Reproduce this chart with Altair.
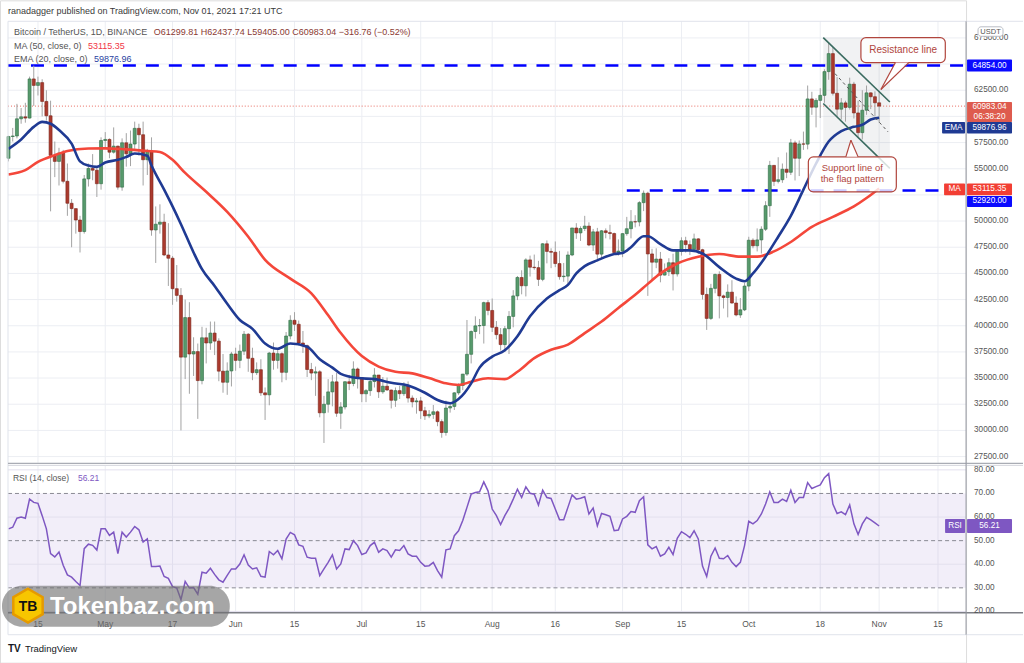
import altair as alt
import pandas as pd

FONT = "Liberation Sans"

# ---------------- candles (BTC/USDT 1D, Apr 8 - Nov 1 2021) ----------------
dates = pd.date_range("2021-04-08", "2021-11-01", freq="D").strftime("%Y-%m-%d").tolist()

opens = [
    56000, 58080, 58130, 59770, 59960, 59840, 63580, 62960, 63230, 61430, 60060, 56270, 55700, 56500, 53800, 51700, 51190, 50100, 49000, 54030, 55030, 54860, 53570,
    57700, 57800, 56580, 57160, 53240, 57480, 56430, 57360, 58860, 58250, 55860, 56700, 49150, 49700, 49900, 46760, 46450, 43540, 42900, 37000, 40780, 37300, 37530, 34760, 38850, 38350, 39300, 38530, 35660, 34600, 35680,
    37300, 36690, 37570, 39190, 36890, 35520, 35800, 33590, 33400, 37390, 36690, 37330, 35550, 39020, 40520, 40140, 38350, 38090, 35820, 35480, 35600, 31680, 32500, 33680, 34640, 31640, 32240, 34650, 34480, 35870,
    35040, 33500, 33800, 34670, 35290, 33690, 34220, 33860, 32880, 33800, 33510, 34260, 33090, 32730, 32820, 31880, 31390, 31530, 31780, 30840, 29800, 32140, 32290, 33590, 34290, 35380, 37270, 39450, 39990, 40020, 42210,
    41460, 39850, 39150, 38200, 39720, 40890, 42850, 44610, 43820, 46290, 45590, 45550, 44430, 47830, 47100, 47020, 45940, 44690, 44740, 46760, 49340, 48870, 49290, 49520, 47710, 48970, 46840, 49070, 48900, 48810, 46990,
    47130, 48800, 49270, 49940, 49920, 51760, 52660, 46860, 46070, 46370, 44840, 45160, 46020, 44950, 47100, 48120, 47750, 47300, 48300, 47260, 42990, 40700, 43570, 44900, 42850, 42700, 43210, 42170, 41030, 41520,
    43790, 48170, 47640, 48200, 49220, 51470, 55320, 53790, 53950, 54950, 54660, 57470, 56000, 57370, 57350, 61670, 60880, 61530, 62010, 64280, 66000, 62210, 60690, 61290, 60860, 63080, 60330, 58450, 60590, 62250, 61880,
    61299.81,
]
highs = [
    58150, 58900, 61200, 60800, 61300, 63800, 64854, 63800, 63550, 62500, 61500, 57600, 57000, 56800, 55500, 52100, 51200, 50500, 54400, 55500, 56400, 55200, 58000,
    58500, 57900, 58950, 57200, 57900, 58400, 58650, 59500, 59300, 59500, 56900, 58000, 51400, 51600, 50700, 49800, 46650, 45800, 43600, 42500, 42250, 38900, 38300, 39900, 39800, 40400, 40400, 38800, 37300, 36500, 37500,
    37900, 38200, 39500, 39300, 37900, 36500, 36800, 34100, 37500, 38400, 37700, 37450, 39400, 41000, 41300, 40500, 39500, 38200, 36450, 36100, 35750, 33300, 34900, 35300, 35500, 32700, 34700, 35300, 36600, 36000,
    35050, 33950, 34950, 35950, 35290, 35100, 35050, 33900, 34100, 34250, 34600, 34680, 33340, 33100, 33200, 32250, 31950, 32430, 31900, 31050, 32850, 32600, 33650, 34500, 35400, 40550, 39550, 40900, 40650, 42300, 42450,
    42600, 40450, 39780, 39970, 41400, 43400, 44750, 45300, 46450, 46700, 46800, 46200, 47900, 48150, 47400, 48050, 47150, 46000, 47100, 49350, 49800, 49500, 50500, 49880, 49250, 49350, 49150, 49300, 49650, 48900, 48250,
    48850, 50400, 51050, 50560, 51900, 52920, 52800, 47350, 47400, 47050, 45950, 46450, 46880, 47250, 48450, 48500, 48150, 48800, 48370, 47350, 43650, 44000, 44980, 45200, 42970, 43950, 44350, 42800, 42650, 44100,
    48500, 48350, 49300, 49500, 51900, 55750, 55350, 56100, 55500, 56550, 57850, 57680, 57700, 58550, 62950, 62350, 61750, 62700, 64500, 67000, 66650, 63750, 61750, 61500, 63700, 63300, 61500, 62500, 62950, 62300, 62400,
    62437.74,
]
lows = [
    55700, 57600, 57900, 59300, 59400, 59800, 61000, 62000, 60000, 59600, 50930, 54200, 53400, 53600, 50500, 47500, 48800, 47000, 48800, 53300, 53900, 52300, 53000,
    57000, 56000, 56450, 53000, 52900, 55200, 55250, 56900, 56250, 53400, 54400, 48600, 46000, 48800, 46650, 43800, 42000, 42300, 30000, 34900, 33500, 35200, 31100, 34400, 36400, 37700, 37200, 34700, 33600, 33400, 34200,
    35700, 35950, 37200, 35600, 34800, 35300, 33300, 31000, 32400, 35800, 35900, 34600, 34800, 38700, 39500, 38100, 37400, 35100, 34800, 33300, 31250, 28800, 31700, 32300, 31300, 30150, 32000, 33850, 34220, 34000,
    32700, 32700, 33300, 34100, 33100, 33500, 33780, 32100, 32250, 33000, 33300, 32660, 32200, 31600, 31100, 31000, 31170, 31100, 30400, 29300, 29500, 31700, 31950, 33400, 33850, 35200, 36400, 38770, 39200, 38300, 41000,
    39400, 38700, 37640, 37500, 37300, 39850, 42450, 43000, 42800, 44700, 45350, 43800, 44250, 45960, 45500, 45600, 44400, 44200, 43900, 46650, 48300, 48100, 49050, 47600, 47150, 46300, 46400, 48350, 48250, 46850, 46700,
    46550, 48600, 48350, 49400, 49500, 50950, 42850, 44400, 45500, 44150, 44800, 44750, 43370, 44700, 46700, 47000, 46750, 47050, 46850, 42500, 39600, 40550, 43100, 40700, 41650, 40800, 42100, 40900, 40750, 41400,
    43300, 47400, 47100, 46900, 49050, 50400, 53350, 53600, 53650, 54100, 54400, 53880, 54300, 56800, 56850, 60150, 58950, 59850, 61300, 63500, 62000, 60000, 59700, 59500, 60650, 59800, 58000, 57800, 60150, 60700, 60000,
    59405.00,
]
closes = [
    58080, 58130, 59770, 59960, 59840, 63580, 62960, 63230, 61430, 60060, 56270, 55700, 56500, 53800, 51700, 51190, 50100, 49000, 54030, 55030, 54860, 53570, 57700,
    57800, 56580, 57160, 53240, 57480, 56430, 57360, 58860, 58250, 55860, 56700, 49150, 49700, 49900, 46760, 46450, 43540, 42900, 37000, 40780, 37300, 37530, 34760, 38850, 38350, 39300, 38530, 35660, 34600, 35680, 37300,
    36690, 37570, 39190, 36890, 35520, 35800, 33590, 33400, 37390, 36690, 37330, 35550, 39020, 40520, 40140, 38350, 38090, 35820, 35480, 35600, 31680, 32500, 33680, 34640, 31640, 32240, 34650, 34480, 35870, 35040,
    33500, 33800, 34670, 35290, 33690, 34220, 33860, 32880, 33800, 33510, 34260, 33090, 32730, 32820, 31880, 31390, 31530, 31780, 30840, 29800, 32140, 32290, 33590, 34290, 35380, 37270, 39450, 39990, 40020, 42210, 41460,
    39850, 39150, 38200, 39720, 40890, 42850, 44610, 43820, 46290, 45590, 45550, 44430, 47830, 47100, 47020, 45940, 44690, 44740, 46760, 49340, 48870, 49290, 49520, 47710, 48970, 46840, 49070, 48900, 48810, 46990, 47130,
    48800, 49270, 49940, 49920, 51760, 52660, 46860, 46070, 46370, 44840, 45160, 46020, 44950, 47100, 48120, 47750, 47300, 48300, 47260, 42990, 40700, 43570, 44900, 42850, 42700, 43210, 42170, 41030, 41520, 43790,
    48170, 47640, 48200, 49220, 51470, 55320, 53790, 53950, 54950, 54660, 57470, 56000, 57370, 57350, 61670, 60880, 61530, 62010, 64280, 66000, 62210, 60690, 61290, 60860, 63080, 60330, 58450, 60590, 62250, 61880, 61300,
    60983.04,
]
rsi_vals = [
    55, 55.7, 59.5, 60, 59.5, 67.6, 66.2, 65.8, 60.6, 55, 44.5, 43.1, 45.2, 39.6, 35.5, 34.5, 32.7, 31, 46.6, 48.5, 48, 46, 55,
    55, 52.2, 53.6, 44.5, 53.6, 51.5, 53.6, 56, 54.6, 49.4, 50.8, 39, 39, 39.2, 34.8, 34, 30.5, 29.9, 25, 32.7, 29.9, 30.1, 27.3, 36.6, 36.2, 38.3, 35.7, 33.4, 32.4, 35.3, 38,
    38, 40.1, 44, 39.7, 38, 38.5, 34.9, 34.5, 45.4, 44, 45.8, 42.3, 50.7, 53.5, 52.5, 48.2, 47.6, 43, 42.5, 42.5, 35.2, 38, 40.8, 44, 38, 40.1, 46.5, 46.2, 50, 47.9,
    44.1, 44.8, 47.9, 49.3, 45.1, 46.5, 45.8, 43, 46.1, 45.8, 47.9, 44.4, 43.4, 43.4, 40.8, 39.2, 39.4, 40.8, 37.3, 34.5, 46.1, 46.5, 52.1, 54.2, 58.5, 64.1, 69.7, 70.4, 70.7, 74.9, 71.1,
    63.4, 60.6, 56.8, 60.6, 63.7, 67.6, 71.8, 68.3, 72.8, 70.1, 69.7, 65.1, 71.4, 68.3, 67.9, 63.4, 58.9, 58.9, 64.1, 69.4, 67.6, 68, 68.6, 61.3, 63.8, 56.3, 61.5, 61, 60.3, 54.2, 54.5,
    59.2, 60.3, 62.3, 62, 66.9, 68.6, 48.2, 46.5, 47.5, 43.4, 44.4, 47.2, 44.1, 51, 53.8, 52.7, 51.3, 54.2, 50.7, 39.2, 34.8, 43.4, 46.9, 42.5, 42.3, 43.7, 40.8, 39, 40.8, 47.9,
    58.2, 57.1, 58.5, 61.3, 65.5, 70.7, 66.2, 66.2, 67.6, 66.6, 71.4, 66.2, 68.3, 68.3, 74.6, 72.1, 72.9, 73.6, 76.7, 78.4, 65.5, 61.5, 62.2, 61, 65.1, 57.1, 52.6, 57.1, 59.9, 58.8, 57.5,
    56.21,
]

ema_dates = ["2021-04-08", "2021-04-11", "2021-04-14", "2021-04-16", "2021-04-18", "2021-04-20", "2021-04-23", "2021-04-25", "2021-04-27", "2021-04-29",
             "2021-05-01", "2021-05-04", "2021-05-06", "2021-05-08", "2021-05-11", "2021-05-12", "2021-05-15", "2021-05-17", "2021-05-19", "2021-05-22",
             "2021-05-24", "2021-05-27", "2021-05-30", "2021-06-02", "2021-06-05", "2021-06-08", "2021-06-11", "2021-06-14", "2021-06-18", "2021-06-21",
             "2021-06-24", "2021-06-26", "2021-06-30", "2021-07-04", "2021-07-08", "2021-07-12", "2021-07-16", "2021-07-19", "2021-07-22", "2021-07-24",
             "2021-07-27", "2021-07-29", "2021-08-01", "2021-08-04", "2021-08-07", "2021-08-10", "2021-08-14", "2021-08-17", "2021-08-19", "2021-08-21",
             "2021-08-23", "2021-08-26", "2021-08-30", "2021-09-01", "2021-09-03", "2021-09-06", "2021-09-07", "2021-09-10", "2021-09-13", "2021-09-17",
             "2021-09-20", "2021-09-24", "2021-09-28", "2021-09-30", "2021-10-02", "2021-10-05", "2021-10-08", "2021-10-11", "2021-10-14", "2021-10-17",
             "2021-10-20", "2021-10-23", "2021-10-26", "2021-10-28", "2021-10-30", "2021-11-01"]
ema_vals = [56900, 57800, 59000, 59480, 59300, 58700, 57400, 55700, 55300, 55180,
            55600, 55850, 56130, 56450, 56250, 55300, 53000, 51400, 49700, 47000,
            45400, 43800, 42100, 40550, 39700, 38300, 37800, 38300, 38000, 36800,
            36000, 35400, 35000, 34900, 34550, 34300, 33600, 32900, 32600, 33000,
            34500, 36000, 37050, 37650, 39000, 40900, 42600, 43400, 43900, 45000,
            45700, 46250, 46850, 46950, 47500, 48550, 48550, 47800, 47200, 47200,
            46900, 45600, 44500, 44250, 45000, 46600, 48500, 50500, 53000, 55500,
            57600, 58600, 59000, 59200, 59700, 59876.96]

ma_dates = ["2021-04-08", "2021-04-12", "2021-04-15", "2021-04-19", "2021-04-22", "2021-04-27", "2021-05-01", "2021-05-06", "2021-05-11", "2021-05-14",
            "2021-05-17", "2021-05-20", "2021-05-25", "2021-05-30", "2021-06-04", "2021-06-08", "2021-06-14", "2021-06-19", "2021-06-23", "2021-06-26",
            "2021-07-01", "2021-07-05", "2021-07-09", "2021-07-13", "2021-07-17", "2021-07-21", "2021-07-24", "2021-07-27", "2021-07-31", "2021-08-04",
            "2021-08-07", "2021-08-11", "2021-08-15", "2021-08-19", "2021-08-23", "2021-08-27", "2021-08-31", "2021-09-04", "2021-09-07", "2021-09-10",
            "2021-09-14", "2021-09-19", "2021-09-24", "2021-09-29", "2021-10-03", "2021-10-07", "2021-10-11", "2021-10-16", "2021-10-21", "2021-10-26",
            "2021-10-29", "2021-11-01"]
ma_vals = [54450, 54860, 55660, 56300, 56700, 56930, 56950, 56850, 56700, 56600,
           55850, 54600, 52800, 50880, 48500, 46300, 44500, 43100, 41000, 39300,
           37100, 36100, 35600, 35450, 35000, 34500, 34340, 34650, 34980, 34900,
           35600, 36900, 37700, 38200, 39300, 40400, 41700, 42950, 44000, 45000,
           45950, 46600, 46850, 46600, 46600, 47100, 48000, 49450, 50400, 51400,
           52200, 53115.35]

price_ticks = [27500, 30000, 32500, 35000, 37500, 40000, 42500, 45000, 47500, 50000,
               52500, 55000, 57500, 60000, 62500, 65000, 67500]
# tick labels not hidden behind the price badges
price_labels = [27500, 30000, 32500, 35000, 37500, 40000, 42500, 45000, 47500, 50000,
                55000, 57500, 62500, 67500]
rsi_ticks = [20, 30, 40, 50, 60, 70, 80]
rsi_grid = [20, 40, 60, 80]
rsi_dashed = [30, 50, 70]
date_ticks = ["2021-04-15", "2021-05-01", "2021-05-17", "2021-06-01", "2021-06-15", "2021-07-01", "2021-07-15",
              "2021-08-01", "2021-08-16", "2021-09-01", "2021-09-15", "2021-10-01", "2021-10-18", "2021-11-01", "2021-11-15"]
date_labels = ["15", "May", "17", "Jun", "15", "Jul", "15", "Aug", "16", "Sep", "15", "Oct", "18", "Nov", "15"]

resistance_level = 64854.0
support_level = 52920.0
support_start = "2021-09-02"
last_close = 60983.04
ma_last = 53115.35
ema_last = 59876.96
rsi_last = 56.21

# flag pattern drawing (date, price)
flag_d = ["2021-10-18T17:00:00Z", "2021-11-03T13:00:00Z"]
flag_res_p = [67530, 61380]
flag_sup_p = [61230, 55030]
flag_mid_d = ["2021-10-21T12:00:00Z", "2021-11-03T03:00:00Z"]
flag_mid_p = [64090, 58520]
flag_box_p = [56010, 67530]

# ---------------- colours ----------------
UP_F, UP_S = "#579a6c", "#2f6b45"
DN_F, DN_S = "#ab3a2e", "#7a2519"
WICK = "#a3a3a3"
EMA_C = "#1f3a93"
MA_C = "#f4473a"
LVL_C = "#0000ff"
RSI_C = "#7e57c2"
GRID = "#eceef3"
NOTE_C = "#b0453d"
FLAG_C = "#3a6b60"
TXT = "#555555"


def ms(s):
    return int(pd.Timestamp(s).tz_localize("UTC").timestamp() * 1000)


XS = alt.Scale(type="utc", domain=[ms("2021-04-15"), ms("2021-11-01")], range=[38, 880], nice=False, padding=0)
PY = alt.Scale(domain=[27500, 62500], range=[456.7, 90], nice=False, zero=False, padding=0)
RY = alt.Scale(domain=[20, 80], range=[611.7, 470], nice=False, zero=False, padding=0)

ONE = pd.DataFrame({"k": [0]})


def X(f):
    return alt.X(f"{f}:T", scale=XS, axis=None)


def YP(f):
    return alt.Y(f"{f}:Q", scale=PY, axis=None)


def YR(f):
    return alt.Y(f"{f}:Q", scale=RY, axis=None)


def prule(x1, x2, y1, y2, **kw):
    return alt.Chart(ONE).mark_rule(**kw).encode(
        x=alt.value(x1), x2=alt.value(x2), y=alt.value(y1), y2=alt.value(y2))


def prect(x1, x2, y1, y2, **kw):
    return alt.Chart(ONE).mark_rect(**kw).encode(
        x=alt.value(x1), x2=alt.value(x2), y=alt.value(y1), y2=alt.value(y2))


def ptext(s, x, y, size=9, color=TXT, align="left", weight="normal"):
    return alt.Chart(ONE).mark_text(text=s, font=FONT, fontSize=size, color=color, align=align,
                                    baseline="middle", fontWeight=weight).encode(
        x=alt.value(x), y=alt.value(y))


layers = []

# ---------------- grids / frames ----------------
layers.append(alt.Chart(pd.DataFrame({"p": price_ticks})).mark_rule(color=GRID, strokeWidth=1).encode(
    y=YP("p"), x=alt.value(8), x2=alt.value(967)))
layers.append(alt.Chart(pd.DataFrame({"d": date_ticks})).mark_rule(color=GRID, strokeWidth=1).encode(
    x=X("d"), y=alt.value(21), y2=alt.value(463)))
layers.append(alt.Chart(pd.DataFrame({"d": date_ticks})).mark_rule(color=GRID, strokeWidth=1).encode(
    x=X("d"), y=alt.value(466), y2=alt.value(613)))

# RSI band and guides
layers.append(alt.Chart(pd.DataFrame({"a": [70], "b": [30]})).mark_rect(color=RSI_C, opacity=0.1).encode(
    y=YR("a"), y2="b:Q", x=alt.value(8), x2=alt.value(967)))
layers.append(alt.Chart(pd.DataFrame({"r": rsi_grid})).mark_rule(color="#e3e0ee", strokeWidth=1).encode(
    y=YR("r"), x=alt.value(8), x2=alt.value(967)))
layers.append(alt.Chart(pd.DataFrame({"r": rsi_dashed})).mark_rule(color="#8a8a94", strokeWidth=1, strokeDash=[4, 3]).encode(
    y=YR("r"), x=alt.value(8), x2=alt.value(967)))

# flag shading
layers.append(alt.Chart(pd.DataFrame({"d1": [flag_d[0]], "d2": [flag_d[1]], "p1": [flag_box_p[0]], "p2": [flag_box_p[1]]}))
              .mark_rect(color="#787b86", opacity=0.1).encode(x=X("d1"), x2="d2:T", y=YP("p1"), y2="p2:Q"))

# horizontal key levels
layers.append(alt.Chart(pd.DataFrame({"p": [resistance_level]})).mark_rule(color=LVL_C, strokeWidth=2.5, strokeDash=[13, 10]).encode(
    y=YP("p"), x=alt.value(8), x2=alt.value(967)))
layers.append(alt.Chart(pd.DataFrame({"p": [support_level], "d": [support_start]})).mark_rule(color=LVL_C, strokeWidth=2.5, strokeDash=[13, 10]).encode(
    y=YP("p"), x=X("d"), x2=alt.value(967)))

# last price dotted line
layers.append(alt.Chart(pd.DataFrame({"p": [last_close]})).mark_rule(color="#e86a5f", strokeWidth=1, strokeDash=[1, 2]).encode(
    y=YP("p"), x=alt.value(8), x2=alt.value(967)))

# ---------------- candles ----------------
cdf = pd.DataFrame({"date": dates, "open": opens, "high": highs, "low": lows, "close": closes})
cdf["dir"] = ["up" if c >= o else "down" for o, c in zip(opens, closes)]
layers.append(alt.Chart(cdf).mark_rule(color=WICK, strokeWidth=1).encode(x=X("date"), y=YP("low"), y2="high:Q"))
layers.append(alt.Chart(cdf).mark_bar(size=3, strokeWidth=0.6).encode(
    x=X("date"), y=YP("open"), y2="close:Q",
    fill=alt.Fill("dir:N", scale=alt.Scale(domain=["up", "down"], range=[UP_F, DN_F]), legend=None),
    stroke=alt.Stroke("dir:N", scale=alt.Scale(domain=["up", "down"], range=[UP_S, DN_S]), legend=None)))

# moving averages
layers.append(alt.Chart(pd.DataFrame({"d": ma_dates, "v": ma_vals})).mark_line(
    color=MA_C, strokeWidth=2.6, interpolate="monotone").encode(x=X("d"), y=YP("v")))
layers.append(alt.Chart(pd.DataFrame({"d": ema_dates, "v": ema_vals})).mark_line(
    color=EMA_C, strokeWidth=2.6, interpolate="monotone").encode(x=X("d"), y=YP("v")))

# flag lines
layers.append(alt.Chart(pd.DataFrame({"d": flag_d, "p": flag_res_p})).mark_line(color=FLAG_C, strokeWidth=1.6).encode(x=X("d"), y=YP("p")))
layers.append(alt.Chart(pd.DataFrame({"d": flag_d, "p": flag_sup_p})).mark_line(color=FLAG_C, strokeWidth=1.6).encode(x=X("d"), y=YP("p")))
layers.append(alt.Chart(pd.DataFrame({"d": flag_mid_d, "p": flag_mid_p})).mark_line(color="#555", strokeWidth=1, strokeDash=[3, 3]).encode(x=X("d"), y=YP("p")))

# ---------------- callouts ----------------
# Resistance line
layers.append(alt.Chart(pd.DataFrame({"d1": ["2021-10-27T16:00:00Z"], "d2": ["2021-11-16T17:30:00Z"], "p1": [65144], "p2": [67530]}))
              .mark_rect(fill="white", fillOpacity=0.8, stroke=NOTE_C, strokeWidth=1.2, cornerRadius=5)
              .encode(x=X("d1"), x2="d2:T", y=YP("p1"), y2="p2:Q"))
layers.append(alt.Chart(pd.DataFrame({"d": ["2021-11-01T10:00:00Z", "2021-11-04T21:00:00Z", "2021-11-08T01:00:00Z"],
                                      "a": [62567, 65144, 65144], "b": [62567, 63913, 65144]}))
              .mark_area(color="white", opacity=0.85).encode(x=X("d"), y=YP("a"), y2="b:Q"))
layers.append(alt.Chart(pd.DataFrame({"d": ["2021-11-01T10:00:00Z", "2021-11-04T21:00:00Z", "2021-11-01T10:00:00Z", "2021-11-08T01:00:00Z"],
                                      "p": [62567, 65144, 62567, 65144], "g": ["a", "a", "b", "b"]}))
              .mark_line(color=NOTE_C, strokeWidth=1.2).encode(x=X("d"), y=YP("p"), detail="g:N"))
layers.append(alt.Chart(pd.DataFrame({"d": ["2021-11-06T17:00:00Z"], "p": [66337], "t": ["Resistance line"]}))
              .mark_text(font=FONT, fontSize=10, color=NOTE_C, align="center", baseline="middle")
              .encode(x=X("d"), y=YP("p"), text="t:N"))

# Support line of the flag pattern
layers.append(alt.Chart(pd.DataFrame({"d1": ["2021-10-15T04:00:00Z"], "d2": ["2021-11-05T02:00:00Z"], "p1": [52793], "p2": [56134]}))
              .mark_rect(fill="white", fillOpacity=0.8, stroke=NOTE_C, strokeWidth=1.2, cornerRadius=5)
              .encode(x=X("d1"), x2="d2:T", y=YP("p1"), y2="p2:Q"))
layers.append(alt.Chart(pd.DataFrame({"d": ["2021-10-24T02:00:00Z", "2021-10-25T07:00:00Z", "2021-10-27T00:00:00Z"],
                                      "a": [56134, 57727, 56134], "b": [56134, 56134, 56134]}))
              .mark_area(color="white", opacity=0.9).encode(x=X("d"), y=YP("a"), y2="b:Q"))
layers.append(alt.Chart(pd.DataFrame({"d": ["2021-10-24T02:00:00Z", "2021-10-25T07:00:00Z", "2021-10-25T07:00:00Z", "2021-10-27T00:00:00Z"],
                                      "p": [56134, 57727, 57727, 56134], "g": ["a", "a", "b", "b"]}))
              .mark_line(color=NOTE_C, strokeWidth=1.2).encode(x=X("d"), y=YP("p"), detail="g:N"))
layers.append(alt.Chart(pd.DataFrame({"d": ["2021-10-25T15:00:00Z", "2021-10-25T15:00:00Z"], "p": [55100, 54000],
                                      "t": ["Support line of", "the flag pattern"]}))
              .mark_text(font=FONT, fontSize=9.5, color=NOTE_C, align="center", baseline="middle")
              .encode(x=X("d"), y=YP("p"), text="t:N"))

# ---------------- RSI ----------------
layers.append(alt.Chart(pd.DataFrame({"date": dates, "rsi": rsi_vals})).mark_line(color=RSI_C, strokeWidth=1.5).encode(
    x=X("date"), y=YR("rsi")))

# ---------------- frames ----------------
layers.append(prule(8, 1024, 21, 21, color="#e0e3eb", strokeWidth=1))
layers.append(prule(8, 8, 21, 635, color="#e0e3eb", strokeWidth=1))
layers.append(prule(8, 1024, 635, 635, color="#e0e3eb", strokeWidth=1))
layers.append(prule(8, 1024, 463.5, 463.5, color="#a9acb4", strokeWidth=1.2))
layers.append(prule(8, 1024, 465.5, 465.5, color="#d4d6dc", strokeWidth=1))
layers.append(prule(8, 1024, 613, 613, color="#7d7f86", strokeWidth=1.4))
layers.append(prule(967, 967, 21, 635, color="#9598a1", strokeWidth=1))

# ---------------- axis labels ----------------
layers.append(alt.Chart(pd.DataFrame({"p": price_labels, "t": [f"{p:.2f}" for p in price_labels]}))
              .mark_text(font=FONT, fontSize=8.2, color=TXT, align="left", baseline="middle")
              .encode(x=alt.value(975), y=YP("p"), text="t:N"))
layers.append(alt.Chart(pd.DataFrame({"r": rsi_ticks, "t": [f"{r:.2f}" for r in rsi_ticks]}))
              .mark_text(font=FONT, fontSize=8.2, color=TXT, align="left", baseline="middle")
              .encode(x=alt.value(975), y=YR("r"), text="t:N"))
layers.append(alt.Chart(pd.DataFrame({"d": date_ticks, "t": date_labels}))
              .mark_text(font=FONT, fontSize=8.5, color=TXT, align="center", baseline="middle")
              .encode(x=X("d"), y=alt.value(624), text="t:N"))


# ---------------- price badges ----------------
def badge(value, scale_fn, top, bot, color, lines, x1=968, x2=1013):
    df = pd.DataFrame({"v": [value]})
    out = [alt.Chart(df).mark_rect(color=color, yOffset=top, y2Offset=bot, cornerRadius=1)
           .encode(x=alt.value(x1), x2=alt.value(x2), y=scale_fn("v"), y2="v:Q")]
    for txt, dy in lines:
        out.append(alt.Chart(df).mark_text(text=txt, font=FONT, fontSize=8.2, color="white", align="center",
                                           baseline="middle", dy=dy)
                   .encode(x=alt.value((x1 + x2) / 2), y=scale_fn("v")))
    return out


layers += badge(resistance_level, YP, -6, 6, "#0a0aff", [("64854.00", 0)])
layers += badge(last_close, YP, -4, 16, "#de5b4e", [("60983.04", 1), ("06:38:20", 11)])
layers += badge(ema_last, YP, 4.2, 15.8, EMA_C, [("59876.96", 10)])
layers += badge(ema_last, YP, 4.2, 15.8, EMA_C, [("EMA", 10)], x1=943, x2=966)
layers += badge(ma_last, YP, -5, 6.7, "#f23e33", [("53115.35", 1)])
layers += badge(ma_last, YP, -5, 6.7, "#f23e33", [("MA", 1)], x1=945, x2=966)
layers += badge(support_level, YP, 5.4, 16.4, "#0a0aff", [("52920.00", 11)])
layers += badge(rsi_last, YR, -7, 7, RSI_C, [("56.21", 0)])
layers += badge(rsi_last, YR, -7, 7, RSI_C, [("RSI", 0)], x1=946, x2=966)

layers.append(prect(979, 1004, 26.5, 36, fill="white", stroke="#b9bcc4", strokeWidth=1, cornerRadius=3))
layers.append(ptext("USDT", 991.5, 31.3, size=7.5, color="#555", align="center"))

# ---------------- header / legends ----------------
layers.append(ptext("ranadagger published on TradingView.com, Nov 01, 2021 17:21 UTC", 8, 11, size=9, color="#3a3a3a"))
layers.append(ptext("Bitcoin / TetherUS, 1D, BINANCE", 14, 32, size=9, color=TXT))
layers.append(ptext("O61299.81  H62437.74  L59405.00  C60983.04  \u2212316.76 (\u22120.52%)", 154, 32, size=9, color="#8a3a33"))
layers.append(ptext("MA (50, close, 0)", 14, 46, size=9, color=TXT))
layers.append(ptext("53115.35", 88, 46, size=9, color="#f23645"))
layers.append(ptext("EMA (20, close, 0)", 14, 59, size=9, color=TXT))
layers.append(ptext("59876.96", 94, 59, size=9, color="#2a3f9f"))
layers.append(ptext("RSI (14, close)", 13, 478, size=8.5, color=TXT))
layers.append(ptext("56.21", 78, 478, size=8.5, color=RSI_C))

# TradingView footer
layers.append(ptext("TV", 8, 649, size=10, color="#131722", weight="bold"))
layers.append(ptext("TradingView", 25, 649, size=9.5, color="#131722"))

# ---------------- watermark ----------------
layers.append(prect(2, 230, 586, 627, color="#6f6f6f", opacity=0.62, cornerRadius=20))
hexagon = "M0,-1L0.866,-0.5L0.866,0.5L0,1L-0.866,0.5L-0.866,-0.5Z"
layers.append(alt.Chart(ONE).mark_point(shape=hexagon, size=1150, filled=True, fill="#f7c600", stroke="#e59a00",
                                        strokeWidth=2.5, opacity=1).encode(x=alt.value(28), y=alt.value(606)))
layers.append(ptext("TB", 28, 607, size=14, color="#111", align="center", weight="bold"))
layers.append(ptext("Tokenbaz.com", 50, 607, size=24, color="white", weight="bold"))

chart = (alt.layer(*layers)
         .resolve_scale(y="independent")
         .properties(width=967, height=663, padding=0)
         .configure_view(strokeWidth=0)
         .configure(background="white"))

chart.save("out.html", embed_options={"renderer": "svg", "actions": False})
